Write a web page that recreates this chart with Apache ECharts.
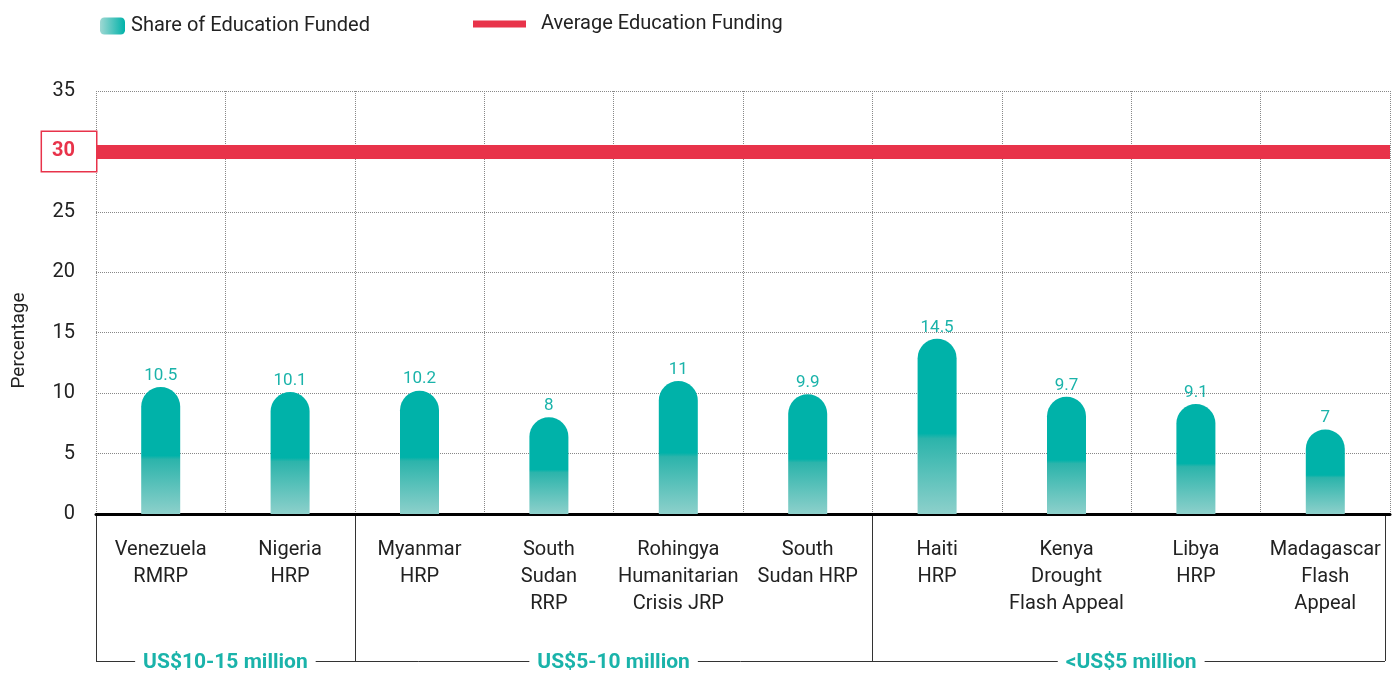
<!DOCTYPE html>
<html>
<head>
<meta charset="utf-8">
<script src="https://cdn.jsdelivr.net/npm/echarts@6/dist/echarts.min.js"></script>
<style>
  html, body { margin: 0; padding: 0; background: #fff; }
  #chart { width: 1395px; height: 675px; }
</style>
</head>
<body>
<div id="chart"></div>
<script>
// data
const categories = [
  'Venezuela\nRMRP', 'Nigeria\nHRP', 'Myanmar\nHRP', 'South\nSudan\nRRP',
  'Rohingya\nHumanitarian\nCrisis JRP', 'South\nSudan HRP', 'Haiti\nHRP',
  'Kenya\nDrought\nFlash Appeal', 'Libya\nHRP', 'Madagascar\nFlash\nAppeal'
]
const shareFunded = [10.5, 10.1, 10.2, 8, 11, 9.9, 14.5, 9.7, 9.1, 7]
const averageFunding = 30
const groupNames = ['US$10-15 million', 'US$5-10 million', '<US$5 million']
const groupSizes = [2, 4, 4]

const TEAL = '#00B2A9'
const RED = '#E8334A'
const FONT = 'Roboto'

const chart = echarts.init(document.getElementById('chart'))

chart.setOption({
  animation: false,
  textStyle: { fontFamily: FONT },
  legend: [{
    left: 95,
    top: 11,
    icon: 'roundRect',
    itemWidth: 25,
    itemHeight: 17,
    textStyle: { fontSize: 20, color: '#222', padding: [0, 0, 0, 1] },
    data: [{
      name: 'Share of Education Funded',
      itemStyle: {
        color: new echarts.graphic.LinearGradient(0, 0, 1, 0, [
          { offset: 0, color: '#9fd8d3' },
          { offset: 1, color: TEAL }
        ])
      }
    }]
  }, {
    left: 468,
    top: 9,
    icon: 'rect',
    itemWidth: 53,
    itemHeight: 7,
    textStyle: { fontSize: 20, color: '#222', padding: [0, 0, 0, 10] },
    data: ['Average Education Funding']
  }],
  grid: {
    left: 96,
    right: 5,
    top: 91,
    bottom: 161,
    outerBoundsMode: 'none',
    containLabel: false
  },
  xAxis: {
    type: 'category',
    data: categories,
    axisLine: { lineStyle: { color: '#000', width: 3 } },
    axisTick: { show: false },
    axisLabel: {
      interval: 0,
      margin: 22,
      fontSize: 20,
      lineHeight: 27,
      color: '#222',
      align: 'center'
    },
    splitLine: {
      show: true,
      interval: 0,
      lineStyle: { type: 'dotted', color: '#888', width: 1 }
    }
  },
  yAxis: {
    type: 'value',
    min: 0,
    max: 35,
    interval: 5,
    name: 'Percentage',
    nameLocation: 'middle',
    nameGap: 67,
    nameTextStyle: { fontSize: 19, color: '#222', padding: [0, 76, 0, 0] },
    axisLine: { show: false },
    axisTick: { show: false },
    axisLabel: {
      margin: 0,
      fontSize: 20,
      color: '#222',
      formatter: function (v) {
        return v === averageFunding ? '{hl|' + v + '}' : '{n|' + v + '}'
      },
      rich: {
        n: {
          fontSize: 20,
          color: '#222',
          padding: [0, 21, 0, 0]
        },
        hl: {
          color: RED,
          fontWeight: 'bold',
          fontSize: 20,
          borderColor: RED,
          borderWidth: 1.5,
          backgroundColor: '#fff',
          padding: [9, 21, 10, 10]
        }
      }
    },
    splitLine: {
      lineStyle: { type: 'dotted', color: '#888', width: 1 }
    }
  },
  series: [{
    name: 'Share of Education Funded',
    type: 'bar',
    data: shareFunded,
    barWidth: 39,
    itemStyle: {
      borderRadius: [20, 20, 0, 0],
      color: new echarts.graphic.LinearGradient(0, 0, 0, 1, [
        { offset: 0, color: TEAL },
        { offset: 0.54, color: TEAL },
        { offset: 0.57, color: '#2cb4ab' },
        { offset: 1, color: '#8dd0cb' }
      ])
    },
    label: {
      show: true,
      position: 'top',
      distance: 3,
      color: '#1ab3aa',
      fontSize: 17
    }
  }, {
    name: 'Average Education Funding',
    type: 'line',
    data: [],
    itemStyle: { color: RED },
    lineStyle: { color: RED },
    markLine: {
      silent: true,
      symbol: 'none',
      label: { show: false },
      lineStyle: { color: RED, width: 14, type: 'solid' },
      data: [{ yAxis: averageFunding }]
    }
  }]
})

// group brackets under the category labels
function drawGroups() {
  const c0 = chart.convertToPixel({ xAxisIndex: 0 }, categories[0])
  const c1 = chart.convertToPixel({ xAxisIndex: 0 }, categories[1])
  const band = c1 - c0
  const yBase = chart.convertToPixel({ yAxisIndex: 0 }, 0)
  const yLine = yBase + 147
  const edge = i => c0 - band / 2 + i * band
  const elements = []
  let start = 0
  const bounds = [0]
  groupSizes.forEach(n => { start += n; bounds.push(start) })
  const last = bounds[bounds.length - 1]
  bounds.forEach((b, i) => {
    const x = Math.round(b === last ? edge(b) - 5 : edge(b)) + 0.5
    elements.push({
      type: 'line',
      shape: { x1: x, y1: yBase, x2: x, y2: yLine },
      style: { stroke: '#333', lineWidth: 1 }
    })
  })
  elements.push({
    type: 'line',
    shape: { x1: edge(0), y1: yLine + 0.5, x2: edge(last) - 5, y2: yLine + 0.5 },
    style: { stroke: '#333', lineWidth: 1 }
  })
  groupNames.forEach((name, i) => {
    const cx = (edge(bounds[i]) + edge(bounds[i + 1])) / 2
    elements.push({
      type: 'text',
      x: cx,
      y: yLine + 2,
      style: {
        text: name,
        fill: '#1ab3aa',
        font: 'bold 21px ' + FONT,
        align: 'center',
        verticalAlign: 'middle',
        backgroundColor: '#fff',
        padding: [0, 8]
      }
    })
  })
  chart.setOption({ graphic: { elements: elements } })
}
drawGroups()
</script>
</body>
</html>
